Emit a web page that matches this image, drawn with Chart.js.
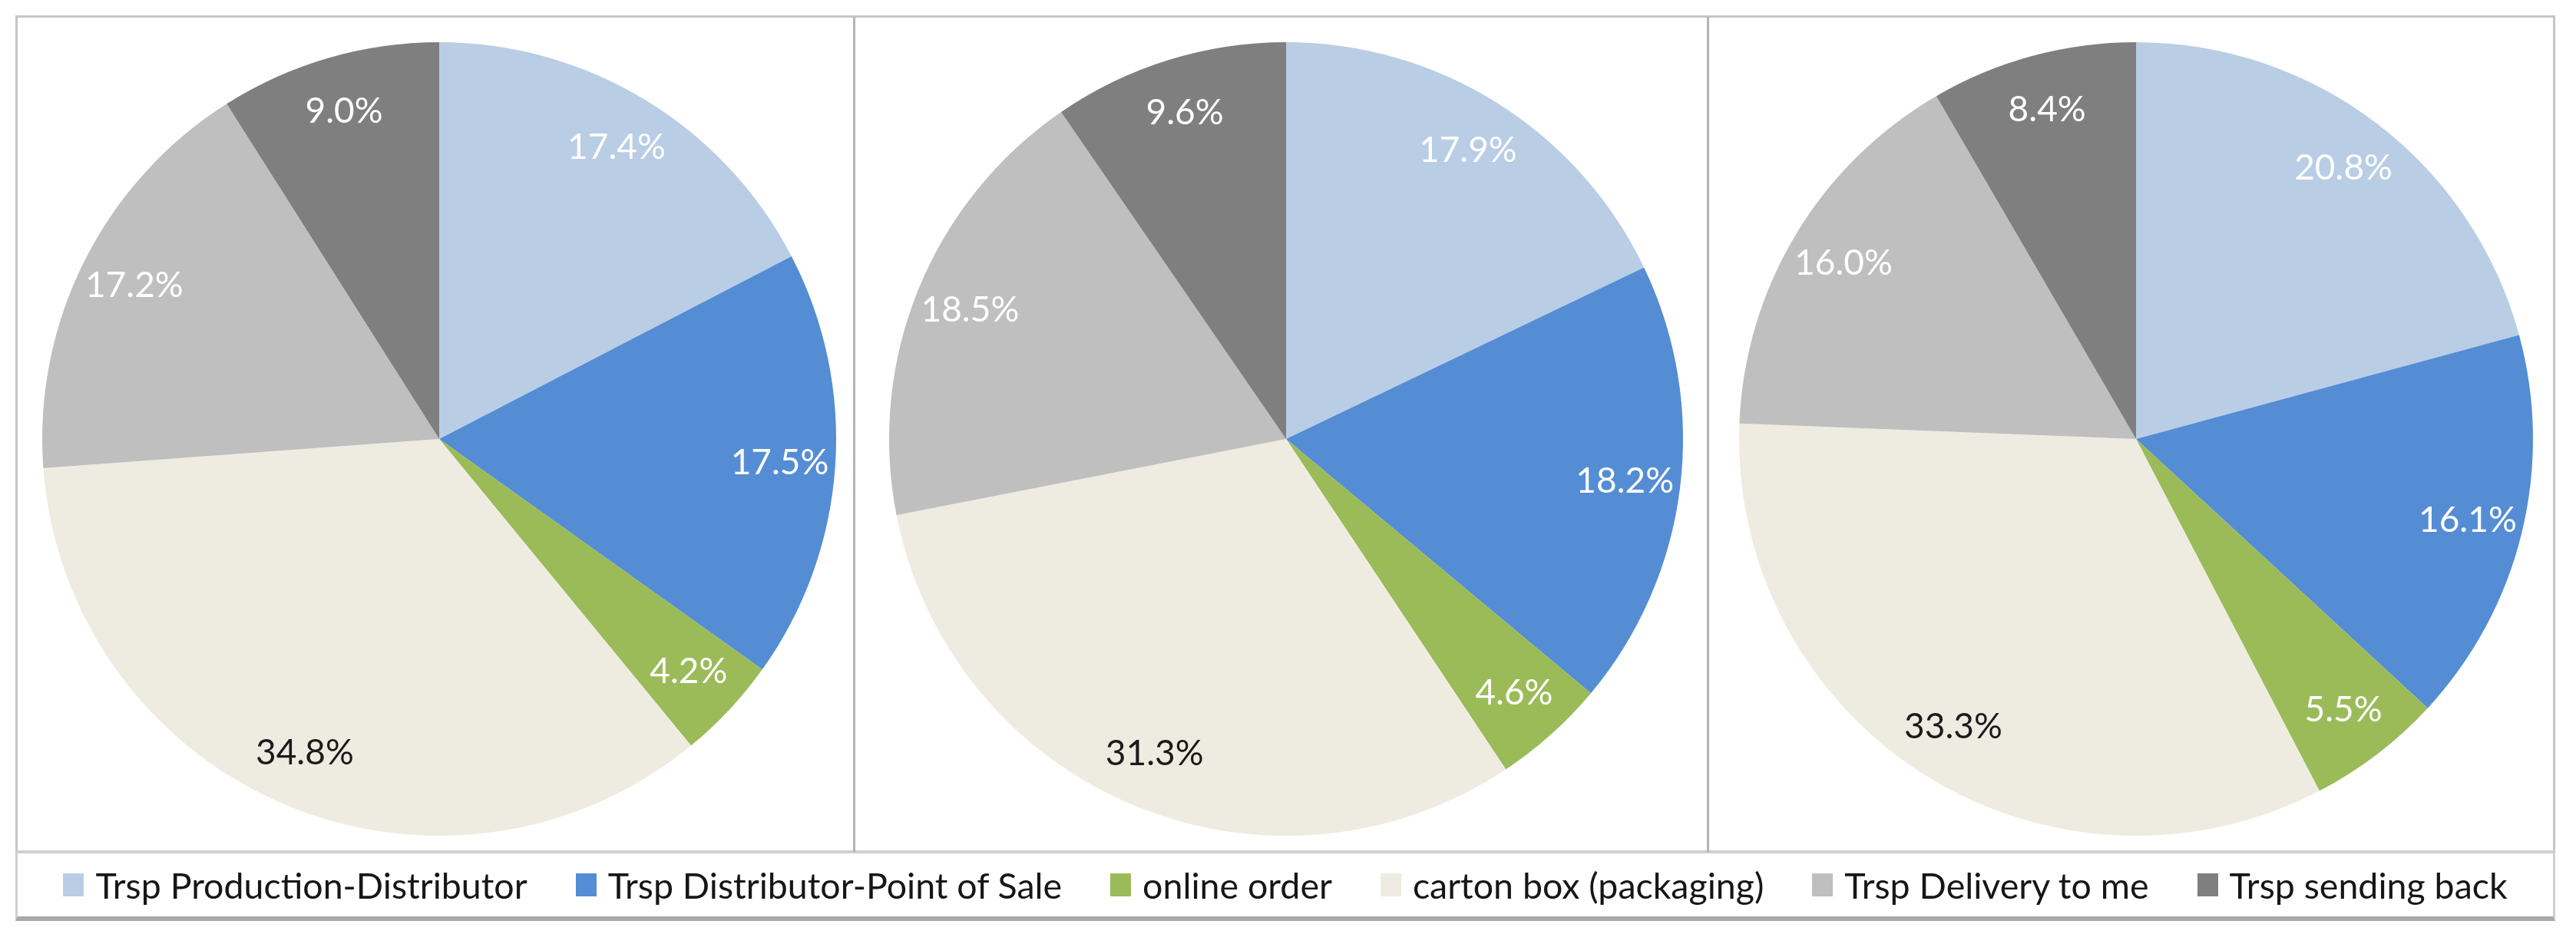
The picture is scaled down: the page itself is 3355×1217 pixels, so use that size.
<!DOCTYPE html>
<html>
<head>
<meta charset="utf-8">
<script src="https://cdn.jsdelivr.net/npm/chart.js@4.4.1/dist/chart.umd.min.js"></script>
<style>
  html, body { margin: 0; padding: 0; background: #fff; }
  body { width: 3355px; height: 1217px; position: relative; overflow: hidden; font-family: Lato, "Open Sans", sans-serif; }
  .frame { position: absolute; box-sizing: border-box; border: 3px solid #c6c6c6; }
  .divider { position: absolute; top: 22px; width: 3px; height: 1088px; background: #b4b4b4; z-index: 2; }
  canvas.pie { position: absolute; }
  #legend {
    position: absolute; left: 20px; top: 1108px; width: 3308px; height: 92px;
    box-sizing: border-box; border: 3px solid #cfcfcf; border-top: 4px solid #cfcfcf; border-bottom: 6px solid #a9a9a9;
    display: flex; align-items: center; justify-content: center;
  }
  .item { display: flex; align-items: center; margin: 0 31.5px; font-size: 46.5px; color: #161616; white-space: nowrap; }
  .swatch { width: 27px; height: 30px; margin-right: 15px; }
</style>
</head>
<body>
<div class="frame" style="left:20px; top:20px; width:3308px; height:1092px;"></div>
<div class="divider" style="left:1111px;"></div>
<div class="divider" style="left:2223px;"></div>
<canvas class="pie" id="pie1" width="1090" height="1090" style="left:27px; top:27px;"></canvas>
<canvas class="pie" id="pie2" width="1090" height="1090" style="left:1130px; top:27px;"></canvas>
<canvas class="pie" id="pie3" width="1090" height="1090" style="left:2237px; top:27px;"></canvas>
<div id="legend"></div>
<script>
// categories (legend order = slice order, clockwise from 12 o'clock)
const categories = [
    'Trsp Production-Distributor',
    'Trsp Distributor-Point of Sale',
    'online order',
    'carton box (packaging)',
    'Trsp Delivery to me',
    'Trsp sending back'
];

// shares in percent, one array per pie
const pie1Values = [17.4, 17.5, 4.2, 34.8, 17.2, 9.0];
const pie2Values = [17.9, 18.2, 4.6, 31.3, 18.5, 9.6];
const pie3Values = [20.8, 16.1, 5.5, 33.3, 16.0, 8.4];

const sliceColors = ['#b9cde5', '#548dd4', '#9bbb59', '#eeece1', '#bfbfbf', '#7f7f7f'];
const labelColors = ['#ffffff', '#ffffff', '#ffffff', '#1a1a1a', '#ffffff', '#ffffff'];

// 扇区内的百分比标签
const sliceLabels = {
    id: 'sliceLabels',
    afterDatasetsDraw(chart) {
        const ctx = chart.ctx;
        const meta = chart.getDatasetMeta(0);
        const data = chart.data.datasets[0].data;
        ctx.save();
        ctx.font = '46px Lato, "Open Sans", sans-serif';
        ctx.textAlign = 'center';
        ctx.textBaseline = 'middle';
        meta.data.forEach((arc, i) => {
            const p = arc.getProps(['x', 'y', 'startAngle', 'endAngle', 'outerRadius'], true);
            const mid = (p.startAngle + p.endAngle) / 2;
            const r = p.outerRadius * 0.86;
            ctx.fillStyle = labelColors[i];
            ctx.fillText(data[i].toFixed(1) + '%', p.x + Math.cos(mid) * r, p.y + Math.sin(mid) * r);
        });
        ctx.restore();
    }
};

const makePie = (id, values) => new Chart(document.getElementById(id), {
    type: 'pie',
    data: {
        labels: categories,
        datasets: [{ data: values, backgroundColor: sliceColors, borderWidth: 0 }]
    },
    options: {
        responsive: false,
        animation: false,
        layout: { padding: 28 },
        plugins: { legend: { display: false }, tooltip: { enabled: false } }
    },
    plugins: [sliceLabels]
});

makePie('pie1', pie1Values);
makePie('pie2', pie2Values);
makePie('pie3', pie3Values);

// 图例
const legend = document.getElementById('legend');
categories.forEach((name, i) => {
    const item = document.createElement('div');
    item.className = 'item';
    const sw = document.createElement('span');
    sw.className = 'swatch';
    sw.style.background = sliceColors[i];
    const txt = document.createElement('span');
    txt.textContent = name;
    item.appendChild(sw);
    item.appendChild(txt);
    legend.appendChild(item);
});
</script>
</body>
</html>
